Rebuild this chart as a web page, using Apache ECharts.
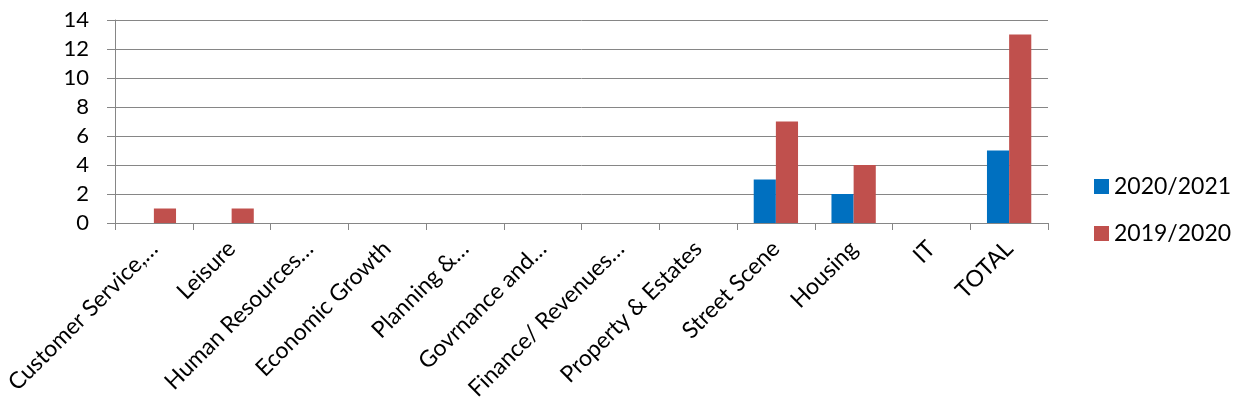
<!DOCTYPE html>
<html>
<head>
<meta charset="utf-8">
<script src="https://cdn.jsdelivr.net/npm/echarts@6/dist/echarts.min.js"></script>
<style>
html,body{margin:0;padding:0;background:#fff;}
#c{width:1242px;height:418px;}
</style>
</head>
<body>
<div id="c"></div>
<script>
const categories = ["Customer Service,…","Leisure","Human Resources…","Economic Growth","Planning &…","Govrnance and…","Finance/ Revenues…","Property & Estates","Street Scene","Housing","IT","TOTAL"];
const series2020_2021 = [0,0,0,0,0,0,0,0,3,2,0,5];
const series2019_2020 = [1,1,0,0,0,0,0,0,7,4,0,13];
const yTicks = {min:0, max:14, interval:2};

const FONT = "Lato";
const chart = echarts.init(document.getElementById('c'), null, {renderer:'canvas'});
chart.setOption({
  animation:false,
  textStyle:{fontFamily:FONT},
  grid:{left:115, right:194, top:20, bottom:195, containLabel:false},
  legend:{
    orient:'vertical', left:1089, top:170,
    itemWidth:15, itemHeight:15, itemGap:24,
    icon:'rect',
    textStyle:{fontSize:23, color:'#000', fontFamily:FONT},
    data:['2020/2021','2019/2020']
  },
  xAxis:{
    type:'category', data:categories,
    axisLine:{show:true, lineStyle:{color:'#868686', width:1}},
    axisTick:{show:true, length:7, lineStyle:{color:'#868686'}, alignWithLabel:false},
    axisLabel:{rotate:45, interval:0, fontSize:23, color:'#000', margin:22, fontFamily:FONT, padding:[0,0,0,0]}
  },
  yAxis:{
    type:'value', min:yTicks.min, max:yTicks.max, interval:yTicks.interval,
    axisLine:{show:true, lineStyle:{color:'#868686', width:1}},
    axisTick:{show:true, length:8, lineStyle:{color:'#868686'}},
    splitLine:{show:true, lineStyle:{color:'#868686', width:1}},
    axisLabel:{fontSize:22, color:'#000', margin:26, fontFamily:FONT}
  },
  series:[
    {name:'2020/2021', type:'bar', data:series2020_2021, itemStyle:{color:'#0070C0'}, barGap:'0%', barCategoryGap:'43%'},
    {name:'2019/2020', type:'bar', data:series2019_2020, itemStyle:{color:'#C0504D'}, barGap:'0%', barCategoryGap:'43%'}
  ]
});
</script>
</body>
</html>
